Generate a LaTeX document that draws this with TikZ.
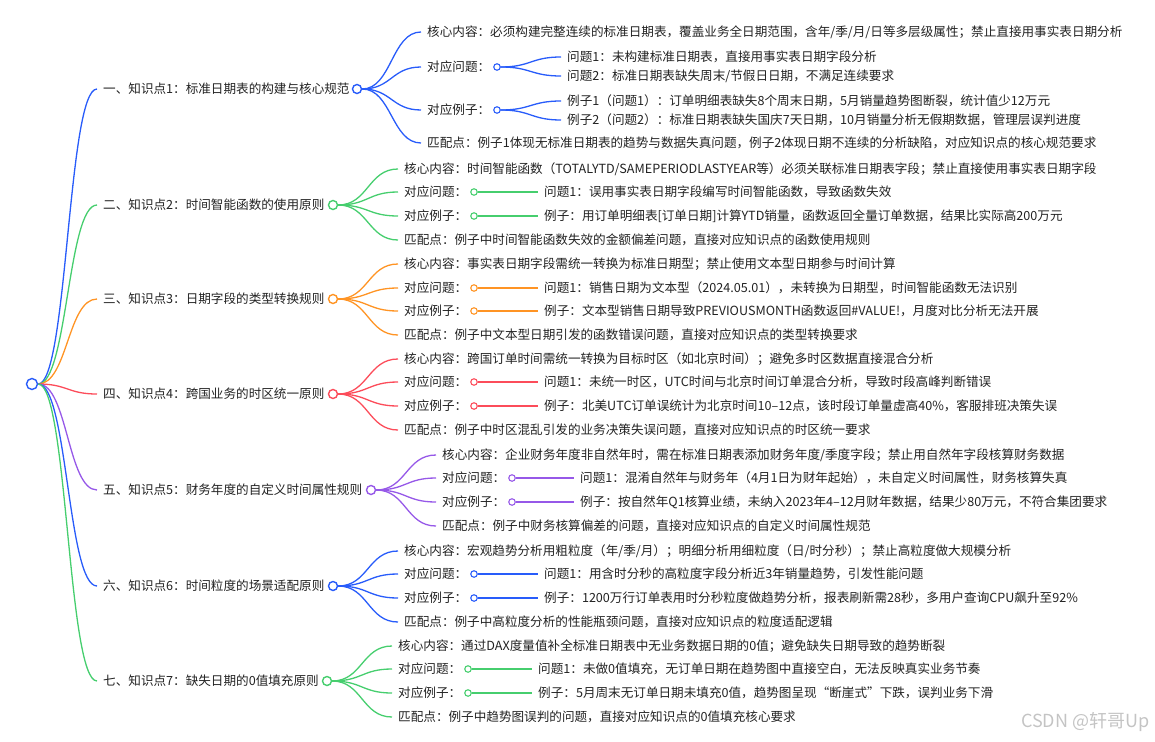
\documentclass[tikz,border=0pt]{standalone}
\usepackage{fontspec}
\setmainfont{Noto Sans CJK SC}
\usetikzlibrary{calc}
\definecolor{ink}{RGB}{34,34,34}
\definecolor{mblue}{RGB}{40,92,250}
\definecolor{mgreen}{RGB}{70,206,110}
\definecolor{morange}{RGB}{255,148,36}
\definecolor{mred}{RGB}{252,76,90}
\definecolor{mpurple}{RGB}{150,88,232}
\definecolor{wmgray}{RGB}{196,196,196}
\begin{document}
\begin{tikzpicture}[x=1pt,y=-1pt,
  every node/.style={font=\fontsize{12.6}{15}\selectfont,text=ink},
  txt/.style={anchor=west,inner xsep=6pt,inner ysep=1pt},
  hubdot/.style={circle,draw=#1,fill=white,line width=1.4pt,minimum size=9pt,inner sep=0pt},
  subdot/.style={circle,draw=#1,fill=white,line width=1.1pt,minimum size=6.5pt,inner sep=0pt},
  bough/.style={draw=#1,line width=1.3pt,to path={let \p1=(\tikztostart),\p2=(\tikztotarget) in .. controls ({(\x1+\x2)/2},\y1) and ({(\x1+\x2)/2},\y2) .. (\tikztotarget)}}]
\useasboundingbox (0,0) rectangle (1155,741);
\node[hubdot=mblue,minimum size=11pt] (root) at (32,384) {};
\node[txt] (k1) at (97,89) {一、知识点1：标准日期表的构建与核心规范};
\node[hubdot=mblue] (h1) at (357,89) {};
\node[txt] (k1c) at (421,32) {核心内容：必须构建完整连续的标准日期表，覆盖业务全日期范围，含年/季/月/日等多层级属性；禁止直接用事实表日期分析};
\node[txt] (k1q) at (421,67) {对应问题：};
\node[subdot=mblue] (d1q) at (497,67) {};
\node[txt] (k1q1) at (561,57) {问题1：未构建标准日期表，直接用事实表日期字段分析};
\node[txt] (k1q2) at (561,76) {问题2：标准日期表缺失周末/节假日日期，不满足连续要求};
\node[txt] (k1e) at (421,110) {对应例子：};
\node[subdot=mblue] (d1e) at (497,110) {};
\node[txt] (k1e1) at (561,101) {例子1（问题1）：订单明细表缺失8个周末日期，5月销量趋势图断裂，统计值少12万元};
\node[txt] (k1e2) at (561,120) {例子2（问题2）：标准日期表缺失国庆7天日期，10月销量分析无假期数据，管理层误判进度};
\node[txt] (k1m) at (421,143) {匹配点：例子1体现无标准日期表的趋势与数据失真问题，例子2体现日期不连续的分析缺陷，对应知识点的核心规范要求};
\node[txt] (k2) at (97,205) {二、知识点2：时间智能函数的使用原则};
\node[hubdot=mgreen] (h2) at (333,205) {};
\node[txt] (k2c) at (398,169) {核心内容：时间智能函数（TOTALYTD/SAMEPERIODLASTYEAR等）必须关联标准日期表字段；禁止直接使用事实表日期字段};
\node[txt] (k2q) at (398,192) {对应问题：};
\node[subdot=mgreen] (d2q) at (474,192) {};
\node[txt] (k2qa) at (538,192) {问题1：误用事实表日期字段编写时间智能函数，导致函数失效};
\node[txt] (k2e) at (398,216) {对应例子：};
\node[subdot=mgreen] (d2e) at (474,216) {};
\node[txt] (k2ea) at (538,216) {例子：用订单明细表[订单日期]计算YTD销量，函数返回全量订单数据，结果比实际高200万元};
\node[txt] (k2m) at (398,240) {匹配点：例子中时间智能函数失效的金额偏差问题，直接对应知识点的函数使用规则};
\node[txt] (k3) at (97,299) {三、知识点3：日期字段的类型转换规则};
\node[hubdot=morange] (h3) at (333,299) {};
\node[txt] (k3c) at (398,264) {核心内容：事实表日期字段需统一转换为标准日期型；禁止使用文本型日期参与时间计算};
\node[txt] (k3q) at (398,288) {对应问题：};
\node[subdot=morange] (d3q) at (474,288) {};
\node[txt] (k3qa) at (538,288) {问题1：销售日期为文本型（2024.05.01），未转换为日期型，时间智能函数无法识别};
\node[txt] (k3e) at (398,311) {对应例子：};
\node[subdot=morange] (d3e) at (474,311) {};
\node[txt] (k3ea) at (538,311) {例子：文本型销售日期导致PREVIOUSMONTH函数返回\#VALUE!，月度对比分析无法开展};
\node[txt] (k3m) at (398,335) {匹配点：例子中文本型日期引发的函数错误问题，直接对应知识点的类型转换要求};
\node[txt] (k4) at (97,394) {四、知识点4：跨国业务的时区统一原则};
\node[hubdot=mred] (h4) at (333,394) {};
\node[txt] (k4c) at (398,359) {核心内容：跨国订单时间需统一转换为目标时区（如北京时间）；避免多时区数据直接混合分析};
\node[txt] (k4q) at (398,382) {对应问题：};
\node[subdot=mred] (d4q) at (474,382) {};
\node[txt] (k4qa) at (538,382) {问题1：未统一时区，UTC时间与北京时间订单混合分析，导致时段高峰判断错误};
\node[txt] (k4e) at (398,406) {对应例子：};
\node[subdot=mred] (d4e) at (474,406) {};
\node[txt] (k4ea) at (538,406) {例子：北美UTC订单误统计为北京时间10–12点，该时段订单量虚高40\%，客服排班决策失误};
\node[txt] (k4m) at (398,430) {匹配点：例子中时区混乱引发的业务决策失误问题，直接对应知识点的时区统一要求};
\node[txt] (k5) at (97,490) {五、知识点5：财务年度的自定义时间属性规则};
\node[hubdot=mpurple] (h5) at (371,490) {};
\node[txt] (k5c) at (436,455) {核心内容：企业财务年度非自然年时，需在标准日期表添加财务年度/季度字段；禁止用自然年字段核算财务数据};
\node[txt] (k5q) at (436,478) {对应问题：};
\node[subdot=mpurple] (d5q) at (512,478) {};
\node[txt] (k5qa) at (574,478) {问题1：混淆自然年与财务年（4月1日为财年起始），未自定义时间属性，财务核算失真};
\node[txt] (k5e) at (436,502) {对应例子：};
\node[subdot=mpurple] (d5e) at (512,502) {};
\node[txt] (k5ea) at (574,502) {例子：按自然年Q1核算业绩，未纳入2023年4–12月财年数据，结果少80万元，不符合集团要求};
\node[txt] (k5m) at (436,526) {匹配点：例子中财务核算偏差的问题，直接对应知识点的自定义时间属性规范};
\node[txt] (k6) at (97,586) {六、知识点6：时间粒度的场景适配原则};
\node[hubdot=mblue] (h6) at (333,586) {};
\node[txt] (k6c) at (398,551) {核心内容：宏观趋势分析用粗粒度（年/季/月）；明细分析用细粒度（日/时分秒）；禁止高粒度做大规模分析};
\node[txt] (k6q) at (398,574) {对应问题：};
\node[subdot=mblue] (d6q) at (474,574) {};
\node[txt] (k6qa) at (538,574) {问题1：用含时分秒的高粒度字段分析近3年销量趋势，引发性能问题};
\node[txt] (k6e) at (398,598) {对应例子：};
\node[subdot=mblue] (d6e) at (474,598) {};
\node[txt] (k6ea) at (538,598) {例子：1200万行订单表用时分秒粒度做趋势分析，报表刷新需28秒，多用户查询CPU飙升至92\%};
\node[txt] (k6m) at (398,622) {匹配点：例子中高粒度分析的性能瓶颈问题，直接对应知识点的粒度适配逻辑};
\node[txt] (k7) at (97,681) {七、知识点7：缺失日期的0值填充原则};
\node[hubdot=mgreen] (h7) at (327,681) {};
\node[txt] (k7c) at (392,646) {核心内容：通过DAX度量值补全标准日期表中无业务数据日期的0值；避免缺失日期导致的趋势断裂};
\node[txt] (k7q) at (392,669) {对应问题：};
\node[subdot=mgreen] (d7q) at (468,669) {};
\node[txt] (k7qa) at (532,669) {问题1：未做0值填充，无订单日期在趋势图中直接空白，无法反映真实业务节奏};
\node[txt] (k7e) at (392,693) {对应例子：};
\node[subdot=mgreen] (d7e) at (468,693) {};
\node[txt] (k7ea) at (532,693) {例子：5月周末无订单日期未填充0值，趋势图呈现“断崖式”下跌，误判业务下滑};
\node[txt] (k7m) at (392,717) {匹配点：例子中趋势图误判的问题，直接对应知识点的0值填充核心要求};
\node[anchor=east,text=wmgray,font=\fontsize{18}{20}\selectfont] (wm) at (1153,722) {CSDN @轩哥Up};
\draw[bough=mblue] (root.east) to (k1.west);
\draw[bough=mgreen] (root.east) to (k2.west);
\draw[bough=morange] (root.east) to (k3.west);
\draw[bough=mred] (root.east) to (k4.west);
\draw[bough=mpurple] (root.east) to (k5.west);
\draw[bough=mblue] (root.east) to (k6.west);
\draw[bough=mgreen] (root.east) to (k7.west);
\draw[bough=mblue] (h1.east) to (k1c.west);
\draw[bough=mblue] (h1.east) to (k1q.west);
\draw[bough=mblue] (h1.east) to (k1e.west);
\draw[bough=mblue] (h1.east) to (k1m.west);
\draw[bough=mblue] (d1q.east) to (k1q1.west);
\draw[bough=mblue] (d1q.east) to (k1q2.west);
\draw[bough=mblue] (d1e.east) to (k1e1.west);
\draw[bough=mblue] (d1e.east) to (k1e2.west);
\draw[bough=mgreen] (h2.east) to (k2c.west);
\draw[bough=mgreen] (h2.east) to (k2q.west);
\draw[bough=mgreen] (h2.east) to (k2e.west);
\draw[bough=mgreen] (h2.east) to (k2m.west);
\draw[bough=mgreen] (d2q.east) to (k2qa.west);
\draw[bough=mgreen] (d2e.east) to (k2ea.west);
\draw[bough=morange] (h3.east) to (k3c.west);
\draw[bough=morange] (h3.east) to (k3q.west);
\draw[bough=morange] (h3.east) to (k3e.west);
\draw[bough=morange] (h3.east) to (k3m.west);
\draw[bough=morange] (d3q.east) to (k3qa.west);
\draw[bough=morange] (d3e.east) to (k3ea.west);
\draw[bough=mred] (h4.east) to (k4c.west);
\draw[bough=mred] (h4.east) to (k4q.west);
\draw[bough=mred] (h4.east) to (k4e.west);
\draw[bough=mred] (h4.east) to (k4m.west);
\draw[bough=mred] (d4q.east) to (k4qa.west);
\draw[bough=mred] (d4e.east) to (k4ea.west);
\draw[bough=mpurple] (h5.east) to (k5c.west);
\draw[bough=mpurple] (h5.east) to (k5q.west);
\draw[bough=mpurple] (h5.east) to (k5e.west);
\draw[bough=mpurple] (h5.east) to (k5m.west);
\draw[bough=mpurple] (d5q.east) to (k5qa.west);
\draw[bough=mpurple] (d5e.east) to (k5ea.west);
\draw[bough=mblue] (h6.east) to (k6c.west);
\draw[bough=mblue] (h6.east) to (k6q.west);
\draw[bough=mblue] (h6.east) to (k6e.west);
\draw[bough=mblue] (h6.east) to (k6m.west);
\draw[bough=mblue] (d6q.east) to (k6qa.west);
\draw[bough=mblue] (d6e.east) to (k6ea.west);
\draw[bough=mgreen] (h7.east) to (k7c.west);
\draw[bough=mgreen] (h7.east) to (k7q.west);
\draw[bough=mgreen] (h7.east) to (k7e.west);
\draw[bough=mgreen] (h7.east) to (k7m.west);
\draw[bough=mgreen] (d7q.east) to (k7qa.west);
\draw[bough=mgreen] (d7e.east) to (k7ea.west);
\end{tikzpicture}
\end{document}
